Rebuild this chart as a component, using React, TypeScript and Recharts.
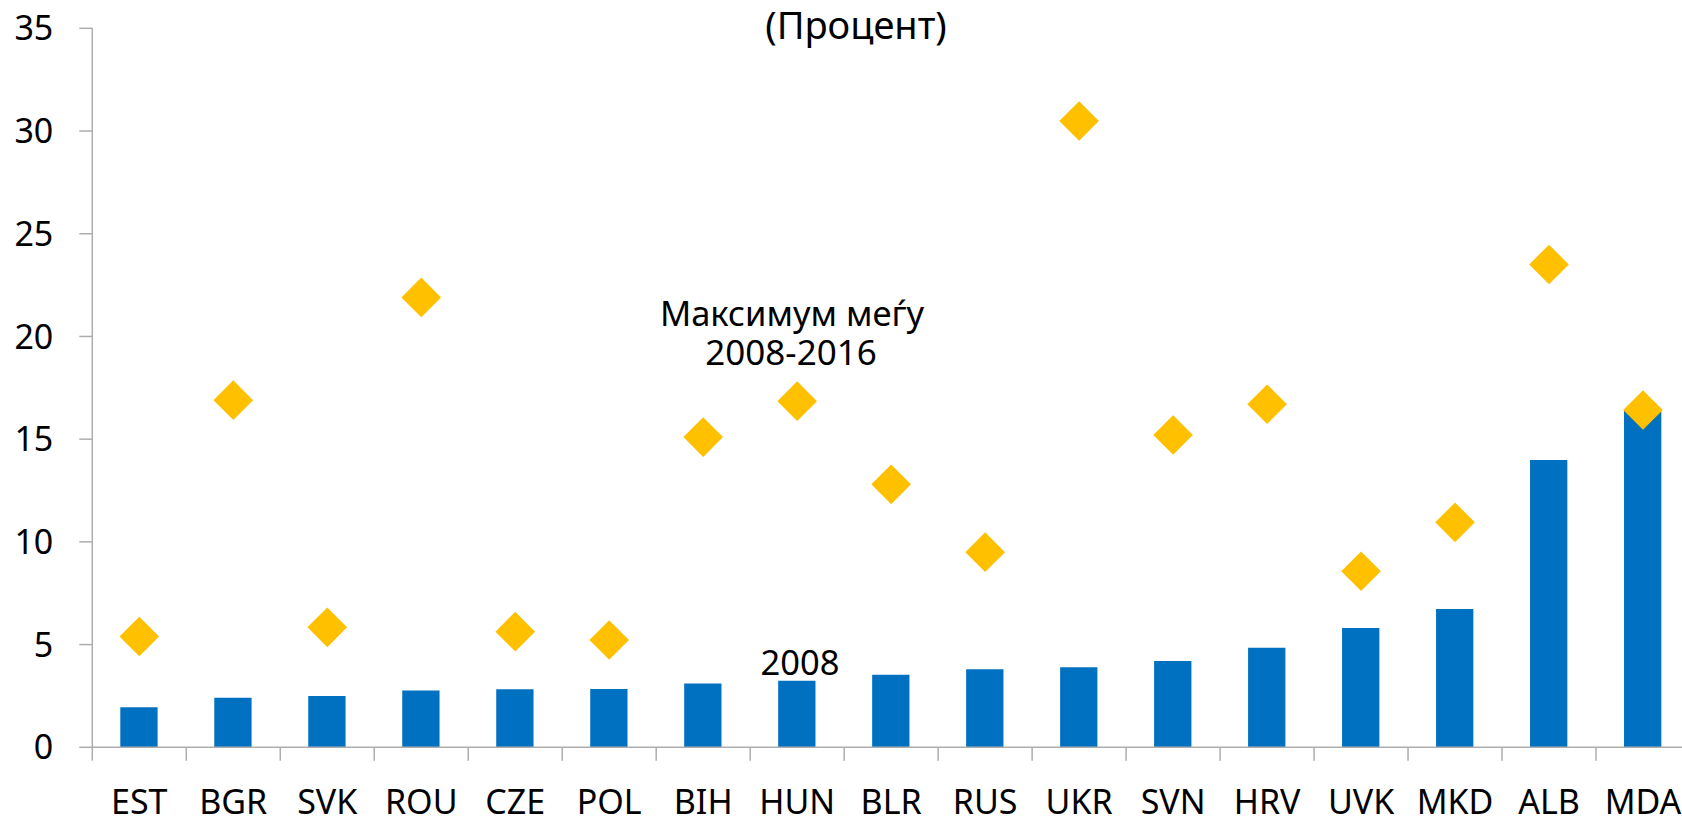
import React from "react";
import { ComposedChart, XAxis, YAxis, Bar, Scatter } from "recharts";

const categories = [
  "EST", "BGR", "SVK", "ROU", "CZE", "POL", "BIH", "HUN", "BLR",
  "RUS", "UKR", "SVN", "HRV", "UVK", "MKD", "ALB", "MDA",
];

// 2008 (bars)
const value2008 = [
  1.95, 2.41, 2.5, 2.77, 2.82, 2.84, 3.11, 3.24, 3.53,
  3.8, 3.9, 4.2, 4.85, 5.81, 6.73, 13.98, 16.37,
];

// maximum 2008-2016 (diamonds)
const max0816 = [
  5.39, 16.9, 5.84, 21.9, 5.63, 5.22, 15.1, 16.85, 12.8,
  9.5, 30.49, 15.2, 16.7, 8.57, 10.95, 23.5, 16.42,
];

const yTicks = [0, 5, 10, 15, 20, 25, 30, 35];

const data = categories.map((name, i) => ({
  name,
  v2008: value2008[i],
  max: max0816[i],
}));

const FONT = "'Noto Sans', 'Open Sans', sans-serif";
const AXIS = "#ADADAD";
const TICK_SIZE = 13;
const TICK_MARGIN = 30;

function Diamond(props: any) {
  const { cx, cy } = props;
  const r = 19.8;
  return (
    <polygon
      points={`${cx},${cy - r} ${cx + r},${cy} ${cx},${cy + r} ${cx - r},${cy}`}
      fill="#FFC000"
    />
  );
}

// label at band centre + Excel-style tick marks on the band edges
function CategoryTick(props: any) {
  const { x, y, payload, width, visibleTicksCount, index } = props;
  const half = payload.offset || width / visibleTicksCount / 2;
  const y0 = y - TICK_SIZE - TICK_MARGIN;
  const edge = (ex: number) => (
    <line x1={ex} x2={ex} y1={y0} y2={y0 + 13.4} stroke={AXIS} strokeWidth={1.5} />
  );
  return (
    <g>
      {edge(x - half)}
      {index === visibleTicksCount - 1 && edge(x + half)}
      <text x={x} y={y} dy="0.71em" textAnchor="middle" fontSize={34} fill="#000" fontFamily={FONT}>
        {payload.value}
      </text>
    </g>
  );
}

export default function App() {
  return (
    <div
      style={{
        position: "fixed",
        left: 0,
        top: 0,
        width: 1682,
        height: 817,
        overflow: "hidden",
        background: "#fff",
      }}
    >
      <ComposedChart
        width={1690}
        height={817}
        data={data}
        margin={{ top: 28.3, right: 0, bottom: 0, left: 0 }}
        style={{ fontFamily: FONT }}
      >
        <XAxis
          dataKey="name"
          interval={0}
          tickLine={false}
          axisLine={{ stroke: AXIS, strokeWidth: 1.5 }}
          tickSize={TICK_SIZE}
          tickMargin={TICK_MARGIN}
          tick={CategoryTick}
          height={69.7}
        />
        <YAxis
          domain={[0, 35]}
          ticks={yTicks}
          width={92.3}
          axisLine={{ stroke: AXIS, strokeWidth: 1.5 }}
          tickLine={{ stroke: AXIS, strokeWidth: 1.5 }}
          tickSize={13}
          tickMargin={26}
          tick={{ fill: "#000", fontSize: 34, fontFamily: FONT }}
        />
        <Bar
          dataKey="v2008"
          fill="#0070C0"
          barSize={37.3}
          isAnimationActive={false}
        />
        <Scatter
          dataKey="max"
          shape={Diamond}
          isAnimationActive={false}
        />
        <text x={856} y={39} textAnchor="middle" fontSize={38} fill="#000" fontFamily={FONT}>
          (Процент)
        </text>
        <text x={792} y={326} textAnchor="middle" fontSize={34.5} fill="#000" fontFamily={FONT}>
          Максимум меѓу
        </text>
        <text x={791} y={365} textAnchor="middle" fontSize={35} fill="#000" fontFamily={FONT}>
          2008-2016
        </text>
        <text x={800} y={675} textAnchor="middle" fontSize={34.5} fill="#000" fontFamily={FONT}>
          2008
        </text>
      </ComposedChart>
    </div>
  );
}
